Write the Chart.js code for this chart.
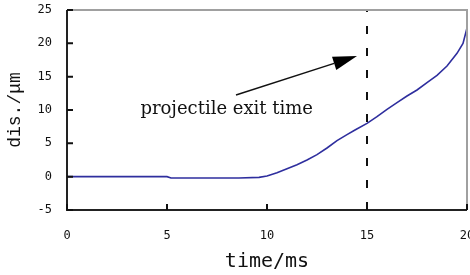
<!DOCTYPE html>
<html>
<head>
<meta charset="utf-8">
<script src="https://cdn.jsdelivr.net/npm/chart.js@4"></script>
<style>
  html, body { margin: 0; padding: 0; background: #fff; }
  #wrap { width: 470px; height: 275px; }
</style>
</head>
<body>
<div id="wrap"><canvas id="disCanvas"></canvas></div>
<script>
// displacement curve
const timeMs = [0, 5, 5.2, 8.6, 9.6, 10, 10.5, 11, 11.5, 12, 12.5, 13, 13.5, 14, 14.4, 15, 15.5, 16, 16.5, 17, 17.5, 18, 18.5, 19, 19.5, 19.8, 20];
const disUm  = [0, 0, -0.2, -0.2, -0.1, 0.1, 0.6, 1.2, 1.8, 2.5, 3.3, 4.3, 5.4, 6.3, 7.0, 8.0, 9.0, 10.1, 11.1, 12.1, 13.0, 14.1, 15.2, 16.6, 18.5, 20.0, 22.3];

// exit time marker
const exitTime = 15;
const yRange = [-5, 25];
const xRange = [0, 20];
const tickValues = [0, 5, 10, 15, 20, 25, -5];

// annotation (data units)
const noteText = 'projectile exit time';
const notePos = [3.67, 9.4];
const arrowFrom = [8.45, 12.25];
const arrowTo = [14.5, 18.1];

const tickStep = 5;

// frame, inward ticks and the arrow note
const decorations = {
  id: 'decorations',
  afterDatasetsDraw(chart) {
    const { ctx, chartArea: a, scales: { x, y } } = chart;
    ctx.save();

    // grey top / right border
    ctx.strokeStyle = '#a0a0a0';
    ctx.lineWidth = 2;
    ctx.beginPath();
    ctx.moveTo(a.left, a.top);
    ctx.lineTo(a.right, a.top);
    ctx.lineTo(a.right, a.bottom);
    ctx.stroke();

    // black left / bottom axes
    ctx.strokeStyle = '#222';
    ctx.beginPath();
    ctx.moveTo(a.left, a.top);
    ctx.lineTo(a.left, a.bottom);
    ctx.lineTo(a.right, a.bottom);
    ctx.stroke();

    // inward ticks
    ctx.strokeStyle = '#111';
    ctx.lineWidth = 2;
    ctx.beginPath();
    tickValues.forEach(v => {
      if (v >= xRange[0] && v <= xRange[1]) {
        const px = x.getPixelForValue(v);
        ctx.moveTo(px, a.bottom);
        ctx.lineTo(px, a.bottom - 6);
      }
      const py = y.getPixelForValue(v);
      ctx.moveTo(a.left, py);
      ctx.lineTo(a.left + 6, py);
    });
    ctx.stroke();

    // arrow
    const x0 = x.getPixelForValue(arrowFrom[0]), y0 = y.getPixelForValue(arrowFrom[1]);
    const x1 = x.getPixelForValue(arrowTo[0]), y1 = y.getPixelForValue(arrowTo[1]);
    const ang = Math.atan2(y1 - y0, x1 - x0);
    const len = 24, half = 7;
    const bx = x1 - len * Math.cos(ang), by = y1 - len * Math.sin(ang);
    ctx.strokeStyle = '#111';
    ctx.lineWidth = 1.5;
    ctx.beginPath();
    ctx.moveTo(x0, y0);
    ctx.lineTo(bx, by);
    ctx.stroke();
    ctx.fillStyle = '#000';
    ctx.beginPath();
    ctx.moveTo(x1, y1);
    ctx.lineTo(bx + half * Math.sin(ang), by - half * Math.cos(ang));
    ctx.lineTo(bx - half * Math.sin(ang), by + half * Math.cos(ang));
    ctx.closePath();
    ctx.fill();

    // note text
    ctx.font = '18px "DejaVu Serif"';
    ctx.fillStyle = '#111';
    ctx.textAlign = 'left';
    ctx.textBaseline = 'alphabetic';
    ctx.fillText(noteText, x.getPixelForValue(notePos[0]), y.getPixelForValue(notePos[1]));

    ctx.restore();
  }
};

const data = {
  datasets: [
    {
      label: 'dis',
      data: timeMs.map((t, i) => ({ x: t, y: disUm[i] })),
      borderColor: '#2e2e9e',
      borderWidth: 1.6,
      pointRadius: 0,
      tension: 0
    },
    {
      label: 'exit',
      data: [{ x: exitTime, y: yRange[0] }, { x: exitTime, y: yRange[1] }],
      borderColor: '#111',
      borderWidth: 2,
      borderDash: [8, 14],
      pointRadius: 0
    }
  ]
};

const config = {
  type: 'line',
  data: data,
  options: {
    responsive: false,
    animation: false,
    layout: { padding: { top: 10, right: 3, left: 0, bottom: 0 } },
    plugins: { legend: { display: false }, tooltip: { enabled: false } },
    scales: {
      x: {
        type: 'linear',
        min: xRange[0],
        max: xRange[1],
        grid: { display: false, drawTicks: false },
        border: { display: false },
        ticks: {
          stepSize: tickStep,
          padding: 19,
          color: '#111',
          maxRotation: 0,
          font: { family: 'DejaVu Sans Mono', size: 12 }
        },
        title: {
          display: true,
          text: 'time/ms',
          color: '#111',
          padding: { top: 0, bottom: 1 },
          font: { family: 'DejaVu Sans Mono', size: 20 }
        },
        afterFit: s => { s.height = 65; s.paddingLeft = 0; s.paddingRight = 0; }
      },
      y: {
        min: yRange[0],
        max: yRange[1],
        grid: { display: false, drawTicks: false },
        border: { display: false },
        ticks: {
          stepSize: tickStep,
          padding: 15,
          color: '#111',
          font: { family: 'DejaVu Sans Mono', size: 12 }
        },
        title: {
          display: true,
          text: 'dis./μm',
          color: '#111',
          padding: { top: 4, bottom: 0 },
          font: { family: 'Liberation Mono', size: 18 }
        },
        afterFit: s => { s.width = 67; s.paddingTop = 0; s.paddingBottom = 0; }
      }
    }
  },
  plugins: [decorations]
};

const canvas = document.getElementById('disCanvas');
canvas.width = 470;
canvas.height = 275;
new Chart(canvas, config);
</script>
</body>
</html>
